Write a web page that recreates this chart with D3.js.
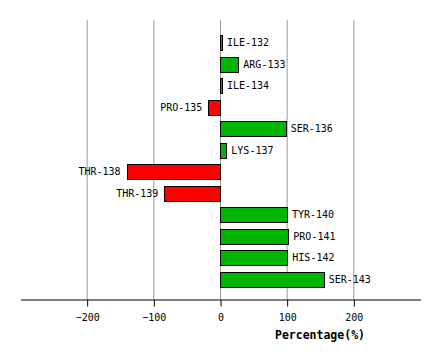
<!DOCTYPE html>
<html><head><meta charset="utf-8">
<script src="https://cdn.jsdelivr.net/npm/d3@7"></script>
<style>body{margin:0;background:#fff}svg{display:block}</style>
</head><body><svg width="440" height="360"></svg>
<script>
const categories = ["ILE-132","ARG-133","ILE-134","PRO-135","SER-136","LYS-137","THR-138","THR-139","TYR-140","PRO-141","HIS-142","SER-143"];
const values = [3, 27.5, 3, -17.5, 98.5, 9.5, -140, -83.5, 100.5, 102.5, 101, 155.5];
const tickValues = [-200, -100, 0, 100, 200];
const axisTitle = "Percentage(%)";

const svg = d3.select("svg");
const x = d3.scaleLinear().domain([-300, 300]).range([20, 420]);
const y = d3.scaleBand().domain(categories).range([29, 293]).paddingInner(0.3).paddingOuter(0.3);
const axisY = 299;
const mono = "'DejaVu Sans Mono', monospace";

// gridlines
svg.append("g").selectAll("line").data(tickValues).join("line")
  .attr("x1", d => x(d) + 0.5).attr("x2", d => x(d) + 0.5)
  .attr("y1", 20).attr("y2", axisY)
  .attr("stroke", "#999").attr("stroke-width", 1);

// bars
svg.append("g").selectAll("rect").data(categories).join("rect")
  .attr("x", (d, i) => Math.round(Math.min(x(0), x(values[i]))) + 0.5)
  .attr("y", d => Math.round(y(d)) + 0.5)
  .attr("width", (d, i) => Math.max(1, Math.round(Math.abs(x(values[i]) - x(0)))))
  .attr("height", Math.round(y.bandwidth()))
  .attr("fill", (d, i) => values[i] >= 0 ? "#00b400" : "#ff0000")
  .attr("stroke", "#000").attr("stroke-width", 1);

// labels
svg.append("g").selectAll("text").data(categories).join("text")
  .attr("x", (d, i) => values[i] >= 0 ? x(values[i]) + 5 : x(values[i]) - 6)
  .attr("y", d => y(d) + y.bandwidth() / 2)
  .attr("dy", "0.35em")
  .attr("text-anchor", (d, i) => values[i] >= 0 ? "start" : "end")
  .attr("font-family", mono).attr("font-size", "10px").attr("fill", "#000")
  .text(d => d);

// x axis
const ax = svg.append("g").attr("transform", `translate(0.5,${axisY + 0.5})`)
  .call(d3.axisBottom(x).tickValues(tickValues).tickSize(7).tickPadding(7).tickSizeOuter(0));
ax.select(".domain").attr("stroke", "#000");
ax.selectAll(".tick line").attr("stroke", "#000");
ax.selectAll(".tick text").attr("font-family", mono).attr("font-size", "10px").attr("fill", "#000");

svg.append("text")
  .attr("x", 320).attr("y", 339)
  .attr("text-anchor", "middle")
  .attr("font-family", mono).attr("font-weight", "bold").attr("font-size", "11.5px")
  .text(axisTitle);
</script></body></html>
